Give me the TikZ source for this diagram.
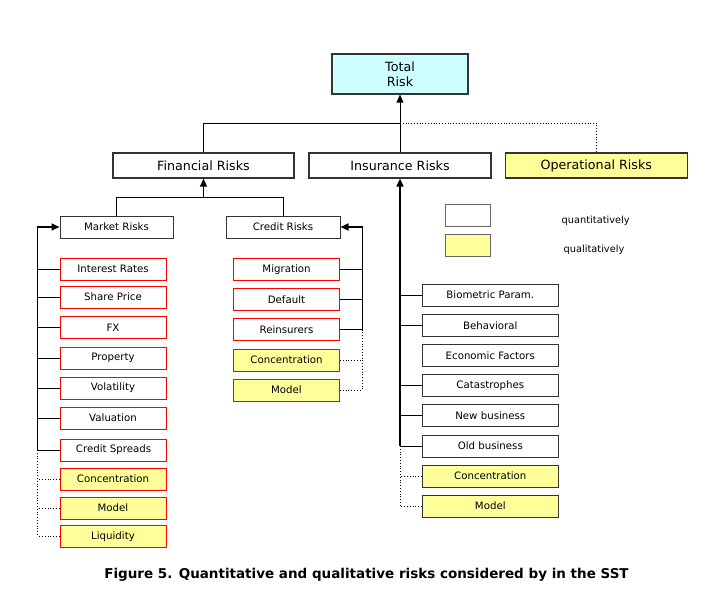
\documentclass[tikz,border=0pt]{standalone}
\usepackage{fontspec}
\setmainfont{DejaVu Sans}
\usetikzlibrary{arrows.meta}
\definecolor{qualyellow}{HTML}{FFFF99}
\definecolor{totalcyan}{HTML}{CCFFFF}
\definecolor{boxgray}{HTML}{333333}
\definecolor{factorred}{HTML}{FF0000}
\tikzstyle{risk}=[draw=boxgray, line width=1.2pt, inner sep=0pt, font=\fontsize{12.7}{15}\selectfont]
\tikzstyle{sub}=[draw=boxgray, line width=1pt, inner sep=0pt, minimum height=22pt, font=\fontsize{10.2}{12}\selectfont]
\tikzstyle{factor}=[draw=factorred, line width=1pt, inner sep=0pt, minimum width=106pt, minimum height=22pt, font=\fontsize{10.2}{12}\selectfont]
\tikzstyle{qual}=[fill=qualyellow]
\tikzstyle{link}=[line width=0.8pt, draw=black]
\tikzstyle{bus}=[line width=1.6pt]
\tikzstyle{up}=[-{Triangle[length=8pt,width=7pt]}]

\begin{document}
\begin{tikzpicture}[x=1pt,y=-1pt]
\useasboundingbox (0,0) rectangle (717,591);
\draw (400,74) node[risk, fill=totalcyan, minimum width=136pt, minimum height=40pt, align=center] (TR) {Total\\Risk};
\draw (203.5,165.5) node[risk, minimum width=181pt, minimum height=25pt] (FR) {Financial Risks};
\draw (400,165.5) node[risk, minimum width=182pt, minimum height=25pt] (IR) {Insurance Risks};
\draw (596.3,165.5) node[risk, qual, minimum width=182pt, minimum height=25pt] (OR) {Operational Risks};
\draw (116.5,227) node[sub, minimum width=113pt] (MR) {Market Risks};
\draw (283,227) node[sub, minimum width=114pt] (CR) {Credit Risks};

% market risk factors
\draw (113,269) node[factor] (M1) {Interest Rates};
\draw (113,297) node[factor] (M2) {Share Price};
\draw (113,327.5) node[factor] (M3) {FX};
\draw (113,358) node[factor] (M4) {Property};
\draw (113,388) node[factor] (M5) {Volatility};
\draw (113,418) node[factor] (M6) {Valuation};
\draw (113.5,450) node[factor] (M7) {Credit Spreads};
\draw (113,479) node[factor, qual] (M8) {Concentration};
\draw (113,508) node[factor, qual] (M9) {Model};
\draw (113,536.3) node[factor, qual] (M10) {Liquidity};

% credit risk factors
\draw (286.5,269.5) node[factor] (C1) {Migration};
\draw (286.5,299.7) node[factor] (C2) {Default};
\draw (286.5,329.5) node[factor] (C3) {Reinsurers};
\draw (286.5,360) node[factor, qual] (C4) {Concentration};
\draw (286.5,390) node[factor, qual] (C5) {Model};

% insurance risk factors
\draw (490.3,295) node[sub, minimum width=136pt] (I1) {Biometric Param.};
\draw (490.3,325.5) node[sub, minimum width=136pt] (I2) {Behavioral};
\draw (490.3,355.5) node[sub, minimum width=136pt] (I3) {Economic Factors};
\draw (490.3,385.5) node[sub, minimum width=136pt] (I4) {Catastrophes};
\draw (490.3,415.7) node[sub, minimum width=136pt] (I5) {New business};
\draw (490.3,446) node[sub, minimum width=136pt] (I6) {Old business};
\draw (490.3,476) node[sub, qual, minimum width=136pt] (I7) {Concentration};
\draw (490.3,506) node[sub, qual, minimum width=136pt] (I8) {Model};

% legend
\draw (467.7,215.3) node[sub, draw=black!60, minimum width=45pt, minimum height=22.5pt] (LQ) {};
\draw (467.7,245.5) node[sub, qual, draw=black!60, minimum width=45pt, minimum height=22.5pt] (LL) {};
\draw (595.7,220.3) node[font=\fontsize{9.8}{12}\selectfont] (LQT) {quantitatively};
\draw (594,250) node[font=\fontsize{9.8}{12}\selectfont] (LLT) {qualitatively};

\coordinate (TJ) at (400,123);
\coordinate (FJ) at (203.5,197);
\coordinate (MB) at (37.3,0);
\coordinate (CB) at (362.3,0);
\coordinate (IB) at (400,0);

\draw[link] (FR.north) |- (TJ);
\draw[link, up] (IR.north) -- (TR.south);
\draw[link, dotted] (TJ) -| (OR.north);
\draw[link] (MR.north) |- (FJ);
\draw[link] (CR.north) |- (FJ);
\draw[link, up] (FJ) -- (FR.south);

\draw[bus, up] (MB |- M7.west) |- (MR.west);
\draw[link, dotted] (MB |- M7.west) -- (MB |- M10.west);
\foreach \n in {M1,M2,M3,M4,M5,M6,M7}
  \draw[link] (\n.west) -- (MB |- \n.west);
\foreach \n in {M8,M9,M10}
  \draw[link, dotted] (\n.west) -- (MB |- \n.west);

\draw[bus, up] (CB |- C3.east) |- (CR.east);
\draw[link, dotted] (CB |- C3.east) -- (CB |- C5.east);
\foreach \n in {C1,C2,C3}
  \draw[link] (\n.east) -- (CB |- \n.east);
\foreach \n in {C4,C5}
  \draw[link, dotted] (\n.east) -- (CB |- \n.east);

\draw[bus, up] (IB |- I6.west) -- (IR.south);
\draw[link, dotted] (IB |- I6.west) -- (IB |- I8.west);
\foreach \n in {I1,I2,I4,I5,I6}
  \draw[link] (\n.west) -- (IB |- \n.west);
\foreach \n in {I7,I8}
  \draw[link, dotted] (\n.west) -- (IB |- \n.west);

\draw (366.5,575) node[font=\bfseries\fontsize{13.5}{16}\selectfont] (CAP) {Figure 5. Quantitative and qualitative risks considered by in the SST};
\end{tikzpicture}
\end{document}
